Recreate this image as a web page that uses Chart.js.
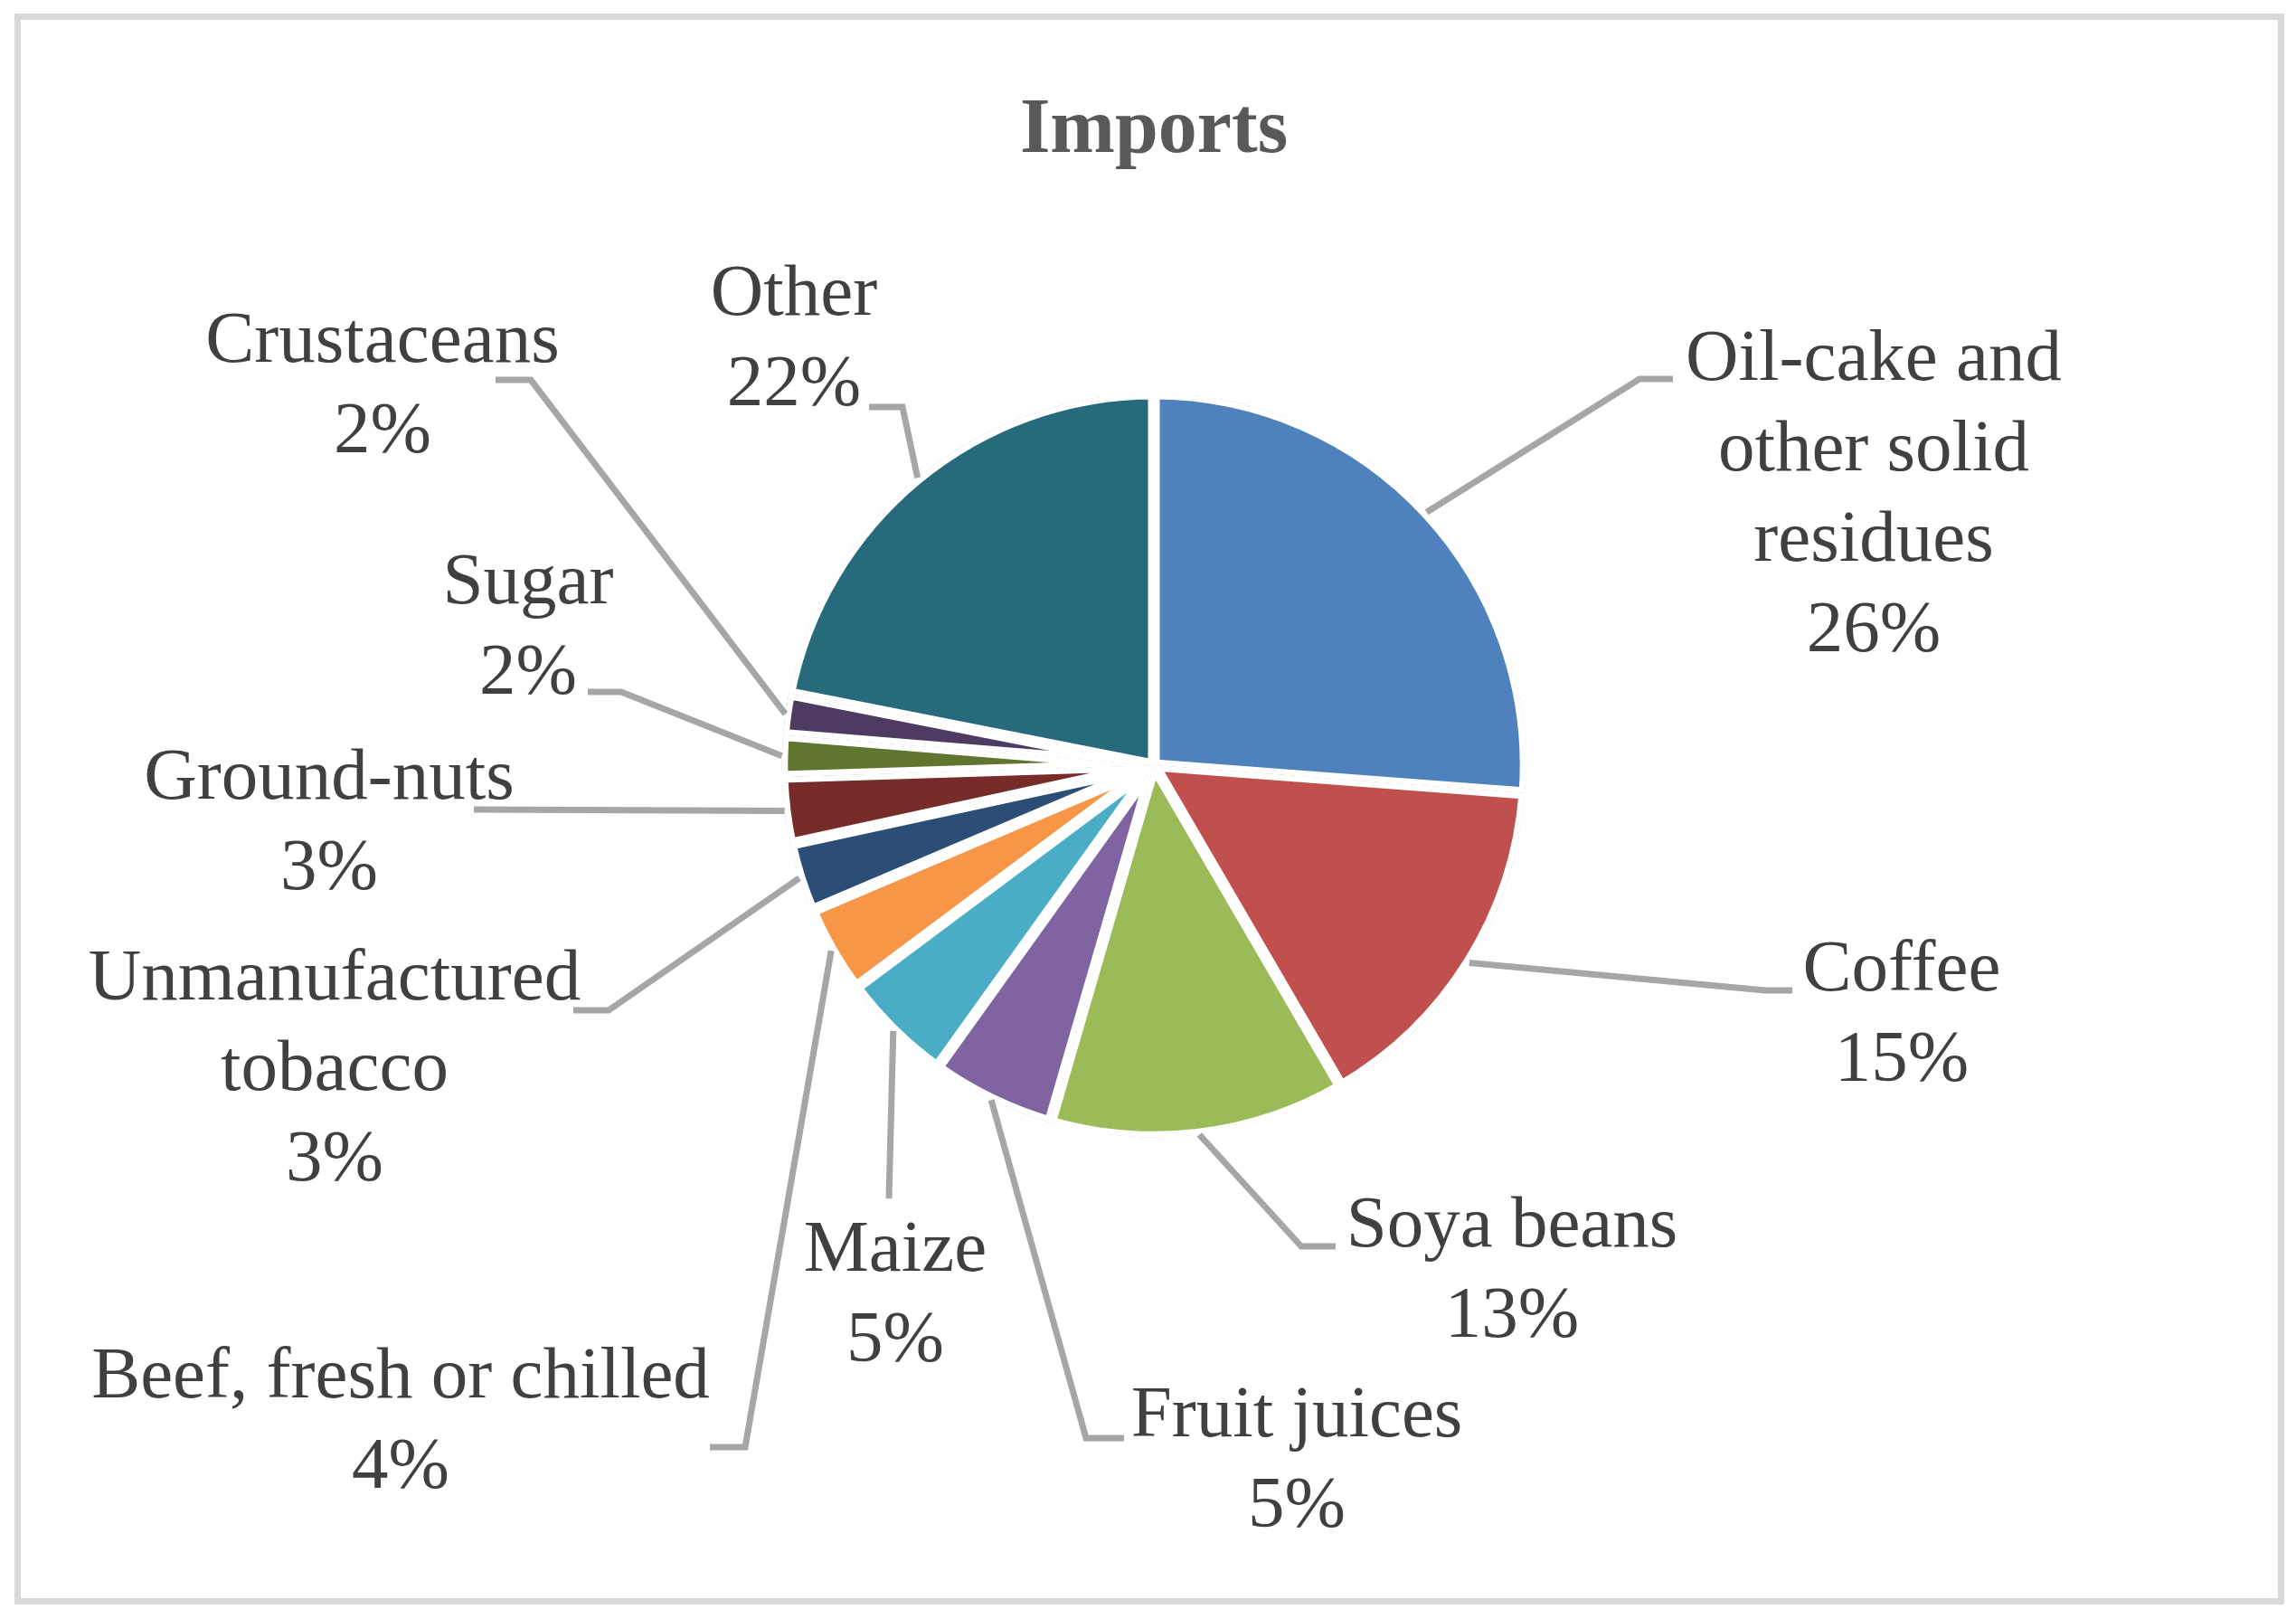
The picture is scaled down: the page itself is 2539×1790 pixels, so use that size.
<!DOCTYPE html>
<html>
<head>
<meta charset="utf-8">
<title>Imports</title>
<script src="https://cdn.jsdelivr.net/npm/chart.js@4.4.0/dist/chart.umd.min.js"></script>
<style>
  html, body { margin: 0; padding: 0; background: #ffffff; }
  #wrap { width: 2539px; height: 1790px; position: relative; }
</style>
</head>
<body>
<div id="wrap"><canvas id="myChart"></canvas></div>
<script>
// data (share of imports, %)
const categories = [
  ['Oil-cake and', 'other solid', 'residues'],
  'Coffee',
  'Soya beans',
  'Fruit juices',
  'Maize',
  'Beef, fresh or chilled',
  ['Unmanufactured', 'tobacco'],
  'Ground-nuts',
  'Sugar',
  'Crustaceans',
  'Other'
];
const shares = [26.2, 15.4, 12.9, 5.4, 4.9, 3.8, 3.0, 2.9, 1.8, 1.8, 21.9];
const sliceColors = [
  '#4F81BD', '#C0504D', '#9BBB59', '#8064A2', '#4BACC6', '#F79646',
  '#2C4D75', '#772C2A', '#5F7530', '#4D3B62', '#276A7C'
];

// label placement, px offsets from the pie centre (layout only)
const labelAt = [
  [796, -426], [827, 249], [396, 532], [158, 742], [-286, 559], [-833, 699],
  [-906, 259], [-912, 37], [-692, -179], [-853, -446], [-398, -498]
];
const leaderElbow = [
  [537, -427], [676, 249], [163, 532], [-75, 744], [-293, 479], [-452, 754],
  [-603, 271], [-752, 49], [-589, -81], [-689, -426], [-278, -396]
];
const leaderEnd = [
  [574, -427], [706, 249], [201, 532], [-33, 744], [-293, 479], [-491, 754],
  [-642, 271], [-752, 49], [-626, -81], [-728, -426], [-315, -396]
];

const frame = {
  id: 'frame',
  beforeDraw(chart) {
    const ctx = chart.ctx;
    ctx.save();
    ctx.fillStyle = '#ffffff';
    ctx.fillRect(0, 0, chart.width, chart.height);
    ctx.strokeStyle = '#d9d9d9';
    ctx.lineWidth = 7;
    ctx.strokeRect(19.5, 18.5, chart.width - 36, chart.height - 38);
    ctx.restore();
  }
};

const outsideLabels = {
  id: 'outsideLabels',
  afterDatasetsDraw(chart) {
    const ctx = chart.ctx;
    const arcs = chart.getDatasetMeta(0).data;
    const vals = chart.data.datasets[0].data;
    const total = vals.reduce((a, b) => a + b, 0);
    ctx.save();
    arcs.forEach((arc, i) => {
      const cx = arc.x, cy = arc.y;
      const mid = (arc.startAngle + arc.endAngle) / 2;
      const r = arc.outerRadius;
      ctx.beginPath();
      ctx.moveTo(cx + r * Math.cos(mid), cy + r * Math.sin(mid));
      ctx.lineTo(cx + leaderElbow[i][0], cy + leaderElbow[i][1]);
      ctx.lineTo(cx + leaderEnd[i][0], cy + leaderEnd[i][1]);
      ctx.strokeStyle = '#a6a6a6';
      ctx.lineWidth = 7;
      ctx.lineJoin = 'miter';
      ctx.stroke();

      const name = chart.data.labels[i];
      const lines = (Array.isArray(name) ? name.slice() : [name]);
      lines.push(Math.round(vals[i] / total * 100) + '%');
      ctx.fillStyle = '#404040';
      ctx.font = '81px "Liberation Serif"';
      ctx.textAlign = 'center';
      ctx.textBaseline = 'alphabetic';
      lines.forEach((t, k) => {
        ctx.fillText(t, cx + labelAt[i][0], cy + labelAt[i][1] + k * 100);
      });
    });
    ctx.restore();
  }
};

const data = {
  labels: categories,
  datasets: [{
    data: shares,
    backgroundColor: sliceColors,
    borderColor: '#ffffff',
    borderWidth: 6.5,
    borderAlign: 'inner'
  }]
};

const config = {
  type: 'pie',
  data: data,
  options: {
    responsive: true,
    maintainAspectRatio: false,
    devicePixelRatio: 1,
    animation: false,
    events: [],
    radius: 411.5,
    layout: { padding: { left: 50, right: 37, top: 94, bottom: 295 } },
    plugins: {
      legend: { display: false },
      tooltip: { enabled: false },
      title: {
        display: true,
        text: 'Imports',
        color: '#595959',
        padding: 0,
        font: { family: 'Liberation Serif', size: 86, weight: 'bold', lineHeight: 1.2 }
      }
    }
  },
  plugins: [frame, outsideLabels]
};

const myChart = new Chart(document.getElementById('myChart'), config);
</script>
</body>
</html>
